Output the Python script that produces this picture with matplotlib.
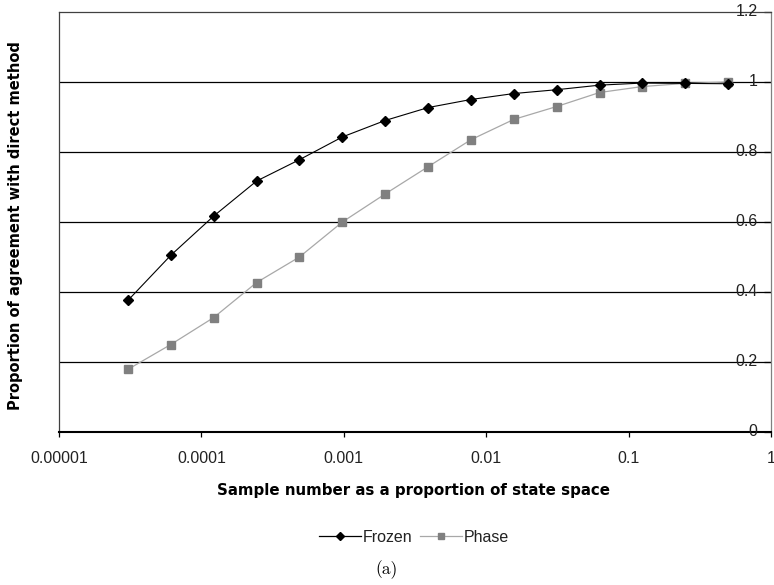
import matplotlib
matplotlib.use("Agg")
import matplotlib.pyplot as plt
from matplotlib.lines import Line2D
from matplotlib.ticker import FixedLocator, FixedFormatter, NullLocator

# sample sizes as a proportion of the state space (2^-15 .. 2^-1)
sample_prop = [3.05e-5, 6.1e-5, 1.22e-4, 2.44e-4, 4.88e-4, 9.77e-4, 1.95e-3, 3.91e-3,
               7.81e-3, 1.56e-2, 3.13e-2, 6.25e-2, 0.125, 0.25, 0.5]
frozen = [0.376, 0.505, 0.617, 0.717, 0.778, 0.843, 0.89, 0.927,
          0.95, 0.967, 0.978, 0.991, 0.997, 0.996, 0.995]
phase = [0.179, 0.25, 0.327, 0.427, 0.50, 0.60, 0.68, 0.758,
         0.835, 0.893, 0.93, 0.97, 0.987, 0.996, 1.0]

x_ticks = [1e-5, 1e-4, 1e-3, 1e-2, 1e-1, 1]
x_labels = ["0.00001", "0.0001", "0.001", "0.01", "0.1", "1"]
y_ticks = [0, 0.2, 0.4, 0.6, 0.8, 1, 1.2]
y_labels = ["0", "0.2", "0.4", "0.6", "0.8", "1", "1.2"]

plt.rcParams['font.family'] = ['Liberation Sans', 'DejaVu Sans']

fig = plt.figure(figsize=(7.74, 5.85), dpi=100)
ax = fig.add_axes([59 / 774, 1 - 432 / 585, 712 / 774, 420 / 585])

ax.set_xscale("log")
ax.set_xlim(1e-5, 1)
ax.set_ylim(0, 1.2)

for y in y_ticks[1:-1]:
    ax.axhline(y, color="black", lw=0.9, zorder=1)

ax.plot(sample_prop, frozen, color="black", lw=0.8, marker="D", ms=5,
        mfc="black", mec="black", zorder=4)
ax.plot(sample_prop, phase, color="#a8a8a8", lw=0.9, marker="s", ms=5.5,
        mfc="#808080", mec="#808080", zorder=3)

ax.xaxis.set_major_locator(FixedLocator(x_ticks))
ax.xaxis.set_major_formatter(FixedFormatter(x_labels))
ax.xaxis.set_minor_locator(NullLocator())
ax.tick_params(axis="x", direction="out", length=3.5, width=0.9, labelsize=11.5,
               pad=10, labelcolor="#222222")

ax.yaxis.tick_right()
ax.set_yticks(y_ticks)
ax.set_yticklabels([])
ax.tick_params(axis="y", direction="in", length=5, width=0.9)
for y, lab in zip(y_ticks, y_labels):
    ax.text(0.981, y, lab, transform=ax.get_yaxis_transform(), ha="right",
            va="center", fontsize=11.5, color="#222222", zorder=5)

ax.spines["left"].set_color("#404040")
ax.spines["top"].set_color("#404040")
ax.spines["right"].set_color("#808080")
for s in ax.spines.values():
    s.set_linewidth(0.9)
ax.spines["bottom"].set_linewidth(1.5)
ax.spines["bottom"].set_color("black")

fig.text(16 / 774, 1 - 226 / 585, "Proportion of agreement with direct method",
         rotation=90, ha="center", va="center", fontsize=10.5, fontweight="bold",
         family="DejaVu Sans")
fig.text(414 / 774, 1 - 490 / 585, "Sample number as a proportion of state space",
         ha="center", va="center", fontsize=10.8, fontweight="bold",
         family="DejaVu Sans")

handles = [
    Line2D([], [], color="black", lw=0.9, marker="D", ms=4, mfc="black", mec="black"),
    Line2D([], [], color="#a8a8a8", lw=0.9, marker="s", ms=4, mfc="#808080", mec="#808080"),
]
fig.legend(handles, ["Frozen", "Phase"], loc="center", bbox_to_anchor=(414 / 774, 1 - 537 / 585),
           ncol=2, frameon=False, fontsize=11.5, handlelength=2.6, handletextpad=0.1,
           columnspacing=0.5, labelcolor="#222222")

fig.text(387 / 774, 1 - 570 / 585, "(a)", ha="center", va="center", fontsize=12.5,
         family="cmr10")

fig.savefig("out.png", dpi=100)
